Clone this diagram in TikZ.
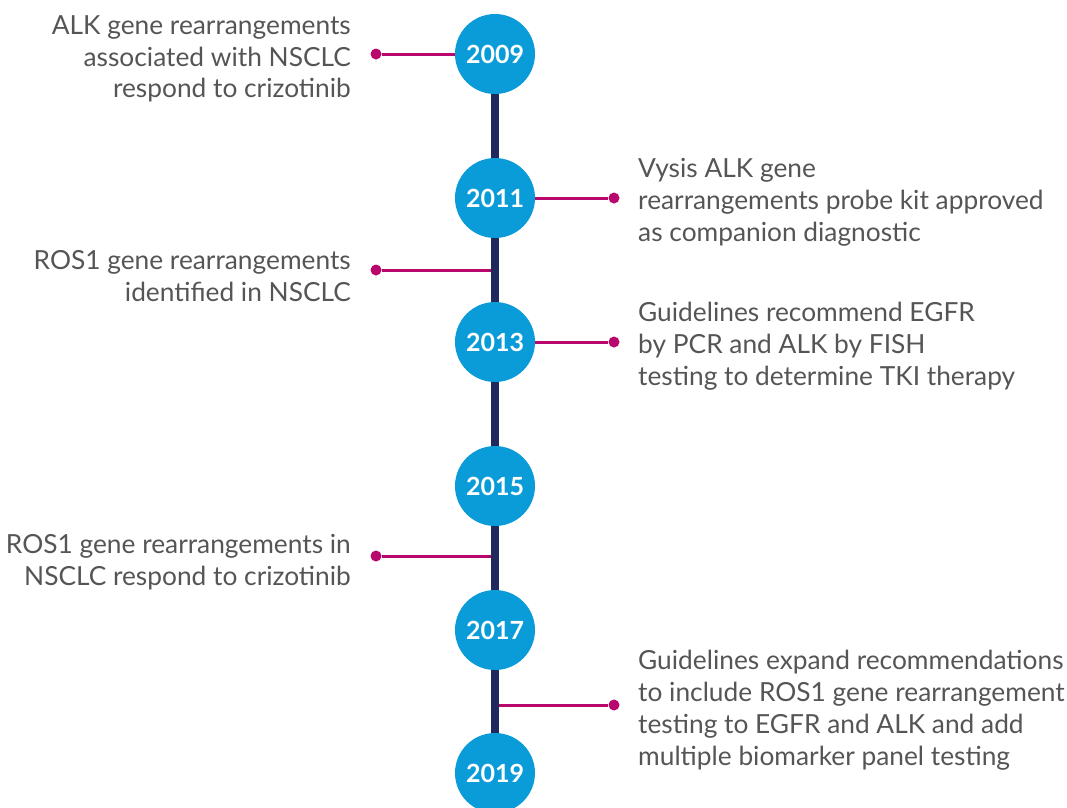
\documentclass[tikz,border=0pt]{standalone}
\usepackage{fontspec}
\setmainfont{Lato}
\definecolor{yrblue}{HTML}{0A9BD9}
\definecolor{spinenavy}{HTML}{1F2A5C}
\definecolor{linkpink}{HTML}{B8086E}
\definecolor{notegray}{HTML}{555555}
\begin{document}
\begin{tikzpicture}[x=1pt,y=-1pt,line cap=round,
  year/.style={circle,fill=yrblue,minimum size=80pt,inner sep=0pt,text=white,font=\fontsize{25}{30}\selectfont\bfseries},
  dot/.style={circle,fill=linkpink,minimum size=11pt,inner sep=0pt},
  link/.style={draw=linkpink,line width=3pt,line cap=butt},
  note/.style={text=notegray,inner sep=0pt,font=\fontsize{26.3}{31.8}\selectfont}]
\useasboundingbox (0,0) rectangle (1067,807);
% spine
\coordinate (top) at (495,54);\coordinate (bot) at (495,773);
\draw[spinenavy,line width=8pt,line cap=butt] (top)--(bot);
% years
\foreach\y/\n in {54/2009,198/2011,342/2013,486/2015,630/2017,773/2019}\node[year] (y\n) at (495,\y) {\n};
% dots and links
\node[dot] (d09) at (376,54) {};\draw[link] (d09)--(y2009);
\node[dot] (d11) at (614,198) {};\draw[link] (y2011)--(d11);
\node[dot] (d12) at (376,270) {};\coordinate (s12) at (491,270);\draw[link] (d12)--(s12);
\node[dot] (d13) at (614,342) {};\draw[link] (y2013)--(d13);
\node[dot] (d16) at (376,556) {};\coordinate (s16) at (491,556);\draw[link] (d16)--(s16);
\node[dot] (d18) at (614,705) {};\coordinate (s18) at (499,705);\draw[link] (s18)--(d18);
% notes
\node[note,anchor=east,align=right] (n09) at (351,59) {ALK gene rearrangements\\associated with NSCLC\\respond to crizotinib};
\node[note,anchor=west,align=left] (n11) at (638,202.5) {Vysis ALK gene\\rearrangements probe kit approved\\as companion diagnostic};
\node[note,anchor=west,align=left] (n13) at (638,346.5) {Guidelines recommend EGFR\\by PCR and ALK by FISH\\testing to determine TKI therapy};
\node[note,anchor=east,align=right] (n12) at (351,276) {ROS1 gene rearrangements\\identified in NSCLC};
\node[note,anchor=east,align=right] (n16) at (351,562) {ROS1 gene rearrangements in\\NSCLC respond to crizotinib};
\node[note,anchor=west,align=left] (n18) at (638,710) {Guidelines expand recommendations\\to include ROS1 gene rearrangement\\testing to EGFR and ALK and add\\multiple biomarker panel testing};
\end{tikzpicture}
\end{document}
